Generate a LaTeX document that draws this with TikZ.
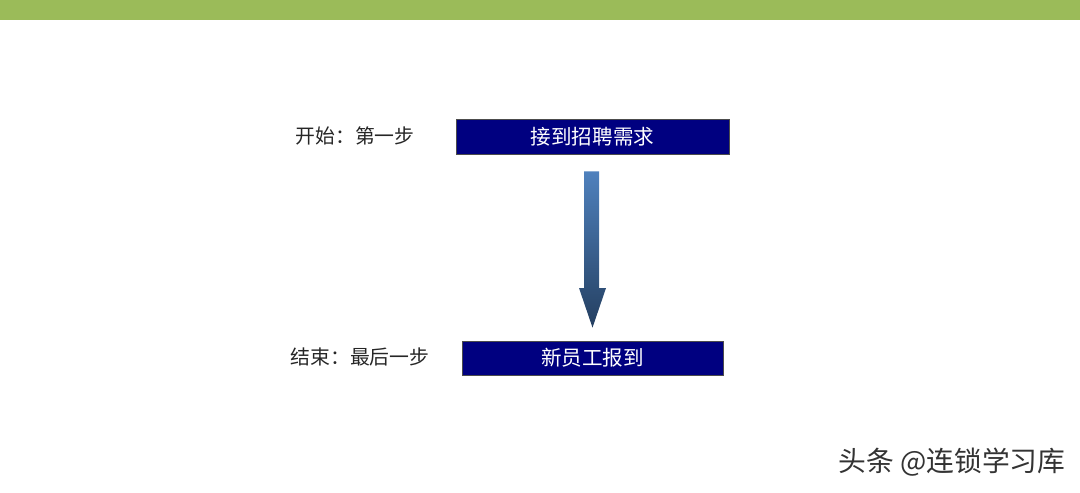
\documentclass[tikz,border=0pt]{standalone}
\usepackage{fontspec}
\setmainfont{Noto Sans CJK SC}
\usetikzlibrary{positioning}

\definecolor{bandgreen}{RGB}{155,187,89}
\definecolor{boxnavy}{RGB}{0,0,128}
\definecolor{arrowtop}{RGB}{79,129,189}
\definecolor{arrowbot}{RGB}{36,63,96}

\begin{document}
\begin{tikzpicture}[node distance=2cm, on grid]

  \useasboundingbox (0,0) rectangle (21.6,9.84);
  \fill[bandgreen] (0,9.44) rectangle (21.6,9.84);

  \tikzset{
    stepbox/.style={draw=black!70, line width=0.4pt, fill=boxnavy, text=white,
      font=\fontsize{11.7}{13}\selectfont, inner sep=0pt},
    steplabel/.style={font=\fontsize{11.3}{13}\selectfont, text=black!85}
  }

  \node[stepbox, minimum width=5.46cm, minimum height=0.7cm] (start) at (11.85,7.11) {接到招聘需求};
  \node[stepbox, minimum width=5.22cm, minimum height=0.68cm, below=4.43cm of start] (finish) {新员工报到};

  \node[steplabel] (startlabel) at (7.1,7.12) {开始：第一步};
  \node[steplabel] (finishlabel) at (7.2,2.70) {结束：最后一步};

  % shaded arrow between the two steps
  \coordinate (top) at ([yshift=-0.34cm]start.south);
  \coordinate (tip) at ([yshift=0.26cm]finish.north);
  \shade[top color=arrowtop, bottom color=arrowbot]
    ([xshift=-0.17cm]top) -- ([xshift=0.13cm]top)
    -- ([xshift=0.13cm]top |- 0,4.08) -- ([xshift=0.27cm]top |- 0,4.08)
    -- (tip) -- ([xshift=-0.27cm]top |- 0,4.08)
    -- ([xshift=-0.17cm]top |- 0,4.08) -- cycle;

  \node[font=\fontsize{15.8}{18}\selectfont, text=black!80] (mark) at (19.04,0.6) {头条 @连锁学习库};

\end{tikzpicture}
\end{document}
